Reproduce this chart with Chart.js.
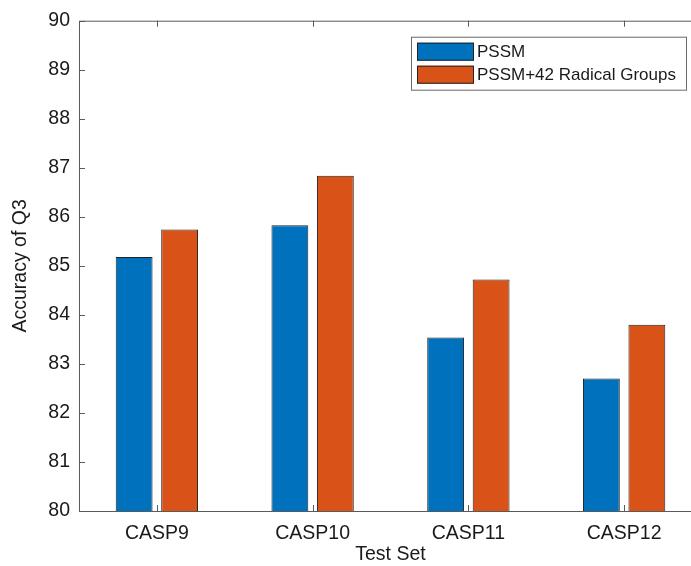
<!DOCTYPE html>
<html>
<head>
<meta charset="utf-8">
<script src="https://cdn.jsdelivr.net/npm/chart.js@4.4.0/dist/chart.umd.min.js"></script>
<style>
  html, body { margin: 0; padding: 0; background: #fff; overflow: hidden; }
  #wrap { width: 691px; height: 566px; overflow: hidden; }
</style>
</head>
<body>
<div id="wrap"><canvas id="myChart" width="702" height="566"></canvas></div>
<script>
var testSets = ["CASP9", "CASP10", "CASP11", "CASP12"];
var pssmValues = [85.18, 85.83, 83.54, 82.70];
var radicalValues = [85.74, 86.84, 84.72, 83.80];
var yMin = 80, yMax = 90;

var fontName = "'Liberation Sans', Arial, Helvetica, sans-serif";
var textColor = "#1a1a1a";
var axisColor = "#5a5a5a";

// matlab style box + inward ticks + boxed legend
var matlabAxes = {
    id: "matlabAxes",
    afterDraw: function (chart) {
        var ctx = chart.ctx;
        var a = chart.chartArea;
        var xs = chart.scales.x, ys = chart.scales.y;
        var tl = 6;
        ctx.save();
        ctx.strokeStyle = axisColor;
        ctx.lineWidth = 1;
        ctx.strokeRect(a.left + 0.5, a.top + 0.5, a.right - a.left - 1, a.bottom - a.top);
        ctx.beginPath();
        for (var i = 0; i < testSets.length; i++) {
            var x = Math.round(xs.getPixelForValue(i)) + 0.5;
            ctx.moveTo(x, a.bottom); ctx.lineTo(x, a.bottom - tl);
            ctx.moveTo(x, a.top); ctx.lineTo(x, a.top + tl);
        }
        for (var v = yMin; v <= yMax; v++) {
            var y = Math.round(ys.getPixelForValue(v)) + 0.5;
            ctx.moveTo(a.left, y); ctx.lineTo(a.left + tl, y);
            ctx.moveTo(a.right, y); ctx.lineTo(a.right - tl, y);
        }
        ctx.stroke();

        // legend
        var ds = chart.data.datasets;
        var lw = 275, lh = 53;
        var lx = a.right - 16 - lw, ly = a.top + 16;
        ctx.fillStyle = "#fff";
        ctx.fillRect(lx, ly, lw, lh);
        ctx.strokeStyle = "#6a6a6a";
        ctx.strokeRect(lx + 0.5, ly + 0.5, lw, lh);
        ctx.font = "17px " + fontName;
        ctx.textBaseline = "middle";
        ctx.textAlign = "left";
        for (var k = 0; k < ds.length; k++) {
            var sy = ly + 6 + k * 23;
            ctx.fillStyle = ds[k].backgroundColor;
            ctx.fillRect(lx + 6, sy, 57, 18);
            ctx.strokeStyle = "#222";
            ctx.strokeRect(lx + 6.5, sy + 0.5, 56, 17);
            ctx.fillStyle = textColor;
            ctx.fillText(ds[k].label, lx + 66, sy + 10);
        }
        ctx.restore();
    }
};

new Chart("myChart", {
    type: "bar",
    data: {
        labels: testSets,
        datasets: [{
            label: "PSSM",
            data: pssmValues,
            backgroundColor: "#0072BD",
            borderColor: "#222",
            borderWidth: 1,
            categoryPercentage: 0.584,
            barPercentage: 0.81
        }, {
            label: "PSSM+42 Radical Groups",
            data: radicalValues,
            backgroundColor: "#D95319",
            borderColor: "#222",
            borderWidth: 1,
            categoryPercentage: 0.584,
            barPercentage: 0.81
        }]
    },
    options: {
        responsive: false,
        animation: false,
        devicePixelRatio: 1,
        layout: { padding: { top: 19, left: 0, right: 0, bottom: 0 } },
        plugins: {
            legend: { display: false },
            tooltip: { enabled: false }
        },
        scales: {
            x: {
                grid: { display: false, drawTicks: false },
                border: { display: false },
                ticks: { color: textColor, font: { family: fontName, size: 19.5 }, padding: 11 },
                title: {
                    display: true,
                    text: "Test Set",
                    color: textColor,
                    font: { family: fontName, size: 19.5 },
                    padding: { top: 0, bottom: 0 }
                },
                afterFit: function (s) { s.height = 55; }
            },
            y: {
                min: yMin,
                max: yMax,
                grid: { display: false, drawTicks: false },
                border: { display: false },
                ticks: { stepSize: 1, color: textColor, font: { family: fontName, size: 19.5 }, padding: 9 },
                title: {
                    display: true,
                    text: "Accuracy of Q3",
                    color: textColor,
                    font: { family: fontName, size: 19.5 },
                    padding: { top: 9, bottom: 0 }
                },
                afterFit: function (s) { s.width = 79; }
            }
        }
    },
    plugins: [matlabAxes]
});
</script>
</body>
</html>
